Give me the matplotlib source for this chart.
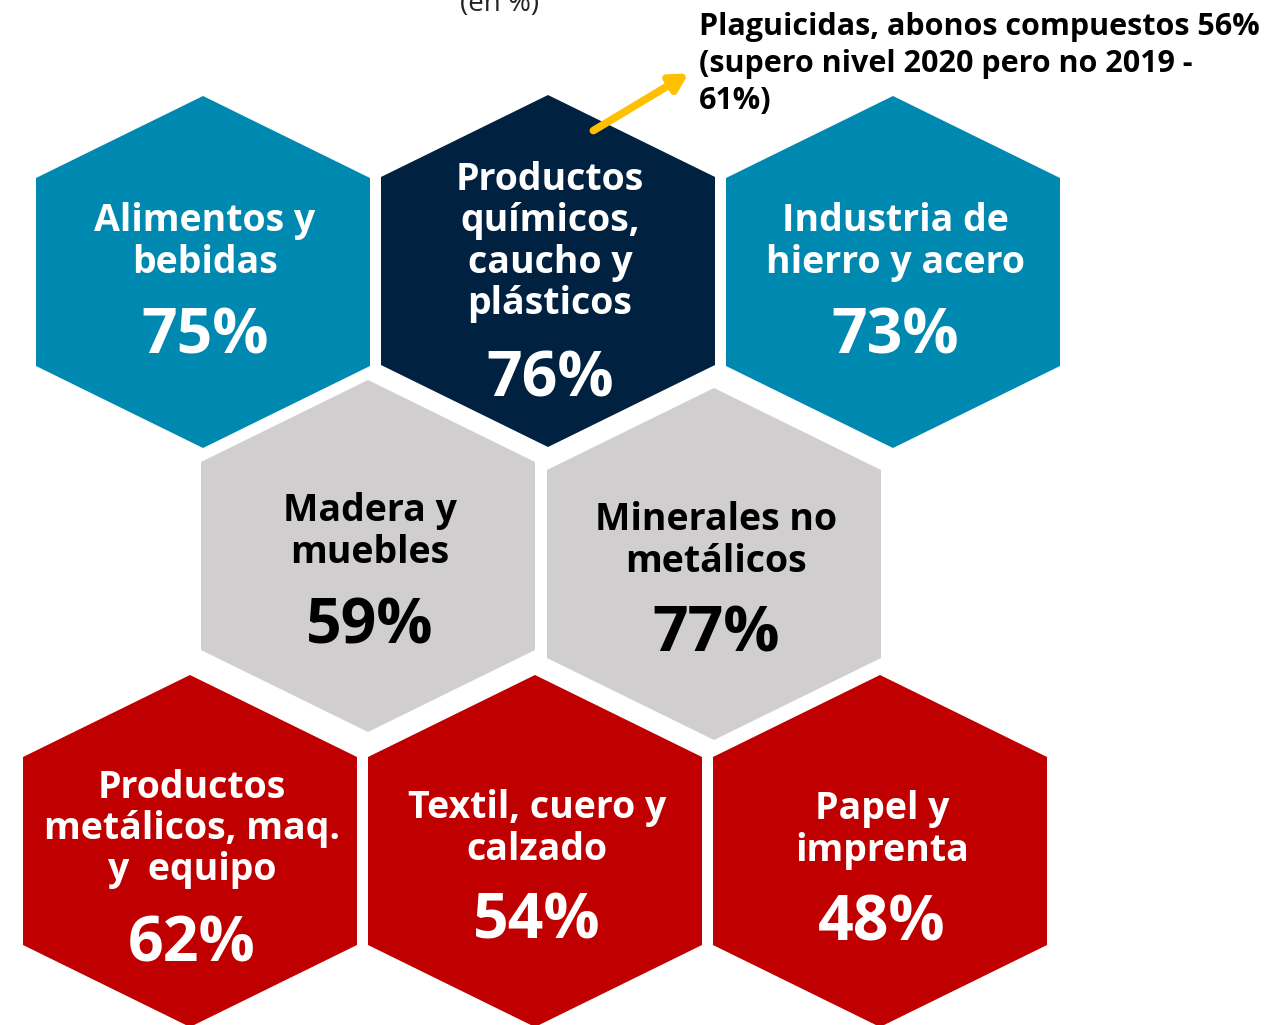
import matplotlib.pyplot as plt
from matplotlib.patches import Polygon

# sector names and capacity utilization values (en %)
sectors = ["Alimentos y\nbebidas", "Productos\nquímicos,\ncaucho y\nplásticos", "Industria de\nhierro y acero",
           "Madera y\nmuebles", "Minerales no\nmetálicos",
           "Productos\nmetálicos, maq.\ny  equipo", "Textil, cuero y\ncalzado", "Papel y\nimprenta"]
values = [75, 76, 73, 59, 77, 62, 54, 48]
fill_colors = ["#0089B0", "#00213F", "#0089B0", "#D0CECF", "#D0CECF", "#C00000", "#C00000", "#C00000"]
text_colors = ["white", "white", "white", "black", "black", "white", "white", "white"]

note = "Plaguicidas, abonos compuestos 56%\n(supero nivel 2020 pero no 2019 -\n61%)"

# layout (pixel positions of hexagon centres)
centers = [(203, 272), (548, 271), (893, 272),
           (368, 556), (714, 564),
           (190, 851), (535, 851), (880, 851)]
title_y = [242, 242, 242, 532, 541, 829, 829, 830]
value_y = [337, 380, 337, 627, 635, 945, 922, 924]

plt.rcParams['font.family'] = ['Open Sans', 'DejaVu Sans']

fig = plt.figure(figsize=(12.69, 10.25), dpi=100)
ax = fig.add_axes([0, 0, 1, 1])
ax.set_xlim(0, 1269)
ax.set_ylim(1025, 0)
ax.axis('off')

hw, hs, ht = 167, 94, 176  # half width, half side, half total height
for (cx, cy), name, val, fc, tc, ty, vy in zip(centers, sectors, values, fill_colors,
                                               text_colors, title_y, value_y):
    pts = [(cx, cy - ht), (cx + hw, cy - hs), (cx + hw, cy + hs),
           (cx, cy + ht), (cx - hw, cy + hs), (cx - hw, cy - hs)]
    ax.add_patch(Polygon(pts, closed=True, facecolor=fc, edgecolor='none'))
    ax.text(cx + 2, ty, name, ha='center', va='center', color=tc, fontsize=27,
            fontweight='bold', linespacing=1.12)
    ax.text(cx + 2, vy, f"{val}%", ha='center', va='center', color=tc, fontsize=45,
            fontweight='bold')

# subtitle, cut at the top edge as in the original
ax.text(500, 4, "(en %)", ha='center', va='center', fontsize=20, color='#222222')

ax.annotate("", xy=(691, 72), xytext=(591, 132),
            arrowprops=dict(arrowstyle='-|>,head_length=1.0,head_width=0.55',
                            color='#FFC000', lw=5.5))
ax.text(699, 64, note, ha='left', va='center', fontsize=22, fontweight='bold',
        color='black', linespacing=1.3)

fig.savefig("out.png", dpi=100)
